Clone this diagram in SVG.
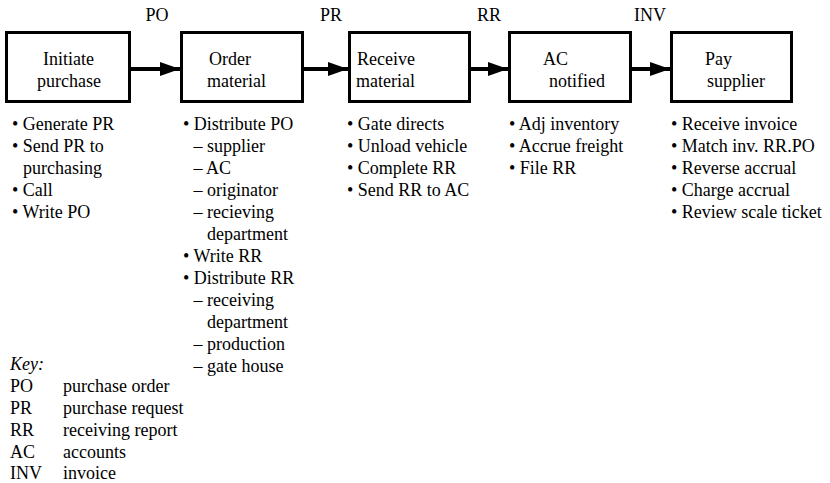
<svg xmlns="http://www.w3.org/2000/svg" width="830" height="483" viewBox="0 0 830 483">
<defs>
<marker id="ah" markerWidth="20" markerHeight="14" refX="20" refY="7" orient="auto" markerUnits="userSpaceOnUse">
<path d="M0,0 L20,7 L0,14 Z" fill="#000"/>
</marker>
</defs>
<rect width="830" height="483" fill="#fff"/>
<g id="connectors" stroke="#000" stroke-width="4" fill="none">
<line x1="131" y1="69" x2="180" y2="69" marker-end="url(#ah)"/>
<line x1="304" y1="69" x2="348" y2="69" marker-end="url(#ah)"/>
<line x1="471" y1="69" x2="508" y2="69" marker-end="url(#ah)"/>
<line x1="632" y1="69" x2="670" y2="69" marker-end="url(#ah)"/>
</g>
<g id="connector-labels">
<text style="font-family:'Liberation Serif',serif;font-size:18px" text-anchor="middle" x="157" y="21">PO</text>
<text style="font-family:'Liberation Serif',serif;font-size:18px" text-anchor="middle" x="331" y="21">PR</text>
<text style="font-family:'Liberation Serif',serif;font-size:18px" text-anchor="middle" x="489" y="21">RR</text>
<text style="font-family:'Liberation Serif',serif;font-size:18px" text-anchor="middle" x="650" y="21">INV</text>
</g>
<g id="initiate">
<rect x="6.5" y="32.5" width="123" height="69" fill="#fff" stroke="#000" stroke-width="3"/>
<text style="font-family:'Liberation Serif',serif;font-size:18px" x="43" y="65">Initiate</text>
<text style="font-family:'Liberation Serif',serif;font-size:18px" x="37" y="87">purchase</text>
<text style="font-family:'Liberation Serif',serif;font-size:18px" x="12" y="130">• Generate PR</text>
<text style="font-family:'Liberation Serif',serif;font-size:18px" x="12" y="152">• Send PR to</text>
<text style="font-family:'Liberation Serif',serif;font-size:18px" x="23" y="174">purchasing</text>
<text style="font-family:'Liberation Serif',serif;font-size:18px" x="12" y="196">• Call</text>
<text style="font-family:'Liberation Serif',serif;font-size:18px" x="12" y="218">• Write PO</text>
</g>
<g id="order">
<rect x="181.5" y="32.5" width="121" height="69" fill="#fff" stroke="#000" stroke-width="3"/>
<text style="font-family:'Liberation Serif',serif;font-size:18px" x="209" y="65">Order</text>
<text style="font-family:'Liberation Serif',serif;font-size:18px" x="207" y="87">material</text>
<text style="font-family:'Liberation Serif',serif;font-size:18px" x="183" y="130">• Distribute PO</text>
<text style="font-family:'Liberation Serif',serif;font-size:18px" x="193.5" y="152">– supplier</text>
<text style="font-family:'Liberation Serif',serif;font-size:18px" x="193.5" y="174">– AC</text>
<text style="font-family:'Liberation Serif',serif;font-size:18px" x="193.5" y="196">– originator</text>
<text style="font-family:'Liberation Serif',serif;font-size:18px" x="193.5" y="218">– recieving</text>
<text style="font-family:'Liberation Serif',serif;font-size:18px" x="207" y="240">department</text>
<text style="font-family:'Liberation Serif',serif;font-size:18px" x="183" y="262">• Write RR</text>
<text style="font-family:'Liberation Serif',serif;font-size:18px" x="183" y="284">• Distribute RR</text>
<text style="font-family:'Liberation Serif',serif;font-size:18px" x="193.5" y="306">– receiving</text>
<text style="font-family:'Liberation Serif',serif;font-size:18px" x="207" y="328">department</text>
<text style="font-family:'Liberation Serif',serif;font-size:18px" x="193.5" y="350">– production</text>
<text style="font-family:'Liberation Serif',serif;font-size:18px" x="193.5" y="372">– gate house</text>
</g>
<g id="receive">
<rect x="349.5" y="32.5" width="120" height="69" fill="#fff" stroke="#000" stroke-width="3"/>
<text style="font-family:'Liberation Serif',serif;font-size:18px" x="357" y="65">Receive</text>
<text style="font-family:'Liberation Serif',serif;font-size:18px" x="356" y="87">material</text>
<text style="font-family:'Liberation Serif',serif;font-size:18px" x="347" y="130">• Gate directs</text>
<text style="font-family:'Liberation Serif',serif;font-size:18px" x="347" y="152">• Unload vehicle</text>
<text style="font-family:'Liberation Serif',serif;font-size:18px" x="347" y="174">• Complete RR</text>
<text style="font-family:'Liberation Serif',serif;font-size:18px" x="347" y="196">• Send RR to AC</text>
</g>
<g id="notified">
<rect x="509.5" y="32.5" width="121" height="69" fill="#fff" stroke="#000" stroke-width="3"/>
<text style="font-family:'Liberation Serif',serif;font-size:18px" x="543" y="65">AC</text>
<text style="font-family:'Liberation Serif',serif;font-size:18px" x="549" y="87">notified</text>
<text style="font-family:'Liberation Serif',serif;font-size:18px" x="509" y="130">• Adj inventory</text>
<text style="font-family:'Liberation Serif',serif;font-size:18px" x="509" y="152">• Accrue freight</text>
<text style="font-family:'Liberation Serif',serif;font-size:18px" x="509" y="174">• File RR</text>
</g>
<g id="pay">
<rect x="671.5" y="32.5" width="120" height="69" fill="#fff" stroke="#000" stroke-width="3"/>
<text style="font-family:'Liberation Serif',serif;font-size:18px" x="705" y="65">Pay</text>
<text style="font-family:'Liberation Serif',serif;font-size:18px" x="707" y="87">supplier</text>
<text style="font-family:'Liberation Serif',serif;font-size:18px" x="671" y="130">• Receive invoice</text>
<text style="font-family:'Liberation Serif',serif;font-size:18px" x="671" y="152">• Match inv. RR.PO</text>
<text style="font-family:'Liberation Serif',serif;font-size:18px" x="671" y="174">• Reverse accrual</text>
<text style="font-family:'Liberation Serif',serif;font-size:18px" x="671" y="196">• Charge accrual</text>
<text style="font-family:'Liberation Serif',serif;font-size:18px" x="671" y="218">• Review scale ticket</text>
</g>
<g id="key">
<text style="font-family:'Liberation Serif',serif;font-size:18px;font-style:italic" x="10" y="370">Key:</text>
<text style="font-family:'Liberation Serif',serif;font-size:18px" x="10" y="392">PO</text>
<text style="font-family:'Liberation Serif',serif;font-size:18px" x="63" y="392">purchase order</text>
<text style="font-family:'Liberation Serif',serif;font-size:18px" x="10" y="414">PR</text>
<text style="font-family:'Liberation Serif',serif;font-size:18px" x="63" y="414">purchase request</text>
<text style="font-family:'Liberation Serif',serif;font-size:18px" x="10" y="436">RR</text>
<text style="font-family:'Liberation Serif',serif;font-size:18px" x="63" y="436">receiving report</text>
<text style="font-family:'Liberation Serif',serif;font-size:18px" x="10" y="458">AC</text>
<text style="font-family:'Liberation Serif',serif;font-size:18px" x="63" y="458">accounts</text>
<text style="font-family:'Liberation Serif',serif;font-size:18px" x="10" y="479">INV</text>
<text style="font-family:'Liberation Serif',serif;font-size:18px" x="63" y="479">invoice</text>
</g>
</svg>
